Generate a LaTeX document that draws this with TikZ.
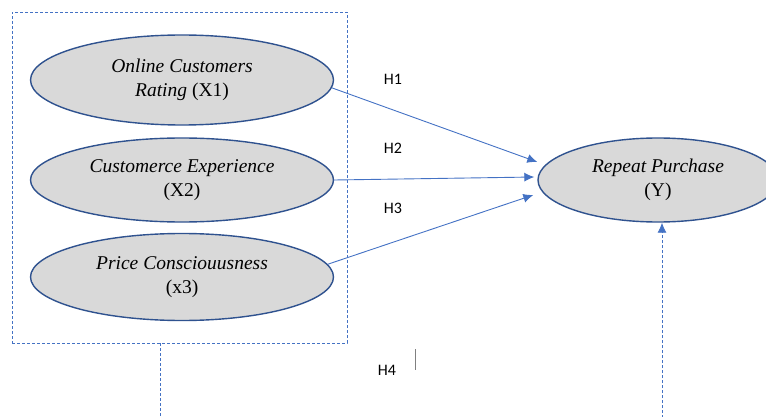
\documentclass[tikz,border=0pt]{standalone}
\usepackage{fontspec}
\setmainfont{Liberation Serif}
\newfontfamily\hypfont{Carlito}
\usetikzlibrary{positioning,calc,shapes.geometric,arrows.meta}
\definecolor{edgeblue}{HTML}{4472C4}
\definecolor{rimblue}{HTML}{2F528F}
\definecolor{varfill}{HTML}{D9D9D9}
\tikzstyle{var}= [ellipse, draw=rimblue, fill=varfill, line width=1.4pt, inner sep=0pt, align=center, font=\fontsize{19.5}{24}\selectfont]
\tikzstyle{hyp}= [inner sep=0pt, font=\hypfont\fontsize{16}{19}\selectfont]
\tikzstyle{link}= [draw=edgeblue, line width=0.9pt, -{Latex[length=10pt,width=9pt]}]
\tikzstyle{grouping}= [draw=edgeblue, line width=0.8pt, dash pattern=on 3pt off 2pt]

\begin{document}
\begin{tikzpicture}[x=1pt,y=-1pt]
\useasboundingbox (0,0) rectangle (766,417);
\node[grouping, minimum width=335pt, minimum height=331pt, inner sep=0pt] (grp) at (179.5,177.5) {};
\node[var, minimum width=303pt, minimum height=90pt] (x1) at (182,80) {\textit{Online Customers}\\\textit{Rating} (X1)};
\node[var, minimum width=303pt, minimum height=84pt] (x2) at (182,180) {\textit{Customerce Experience}\\(X2)};
\node[var, minimum width=303pt, minimum height=87pt] (x3) at (182,277) {\textit{Price Consciouusness}\\(x3)};
\node[var, minimum width=240pt, minimum height=84pt] (y) at (658,180) {\textit{Repeat Purchase}\\(Y)};
\node[hyp] (h1) at (393,79) {H1};
\node[hyp] (h2) at (393,148.5) {H2};
\node[hyp] (h3) at (393,208) {H3};
\node[hyp] (h4) at (387,370) {H4};
\draw[link] (x1.-3) -- ([shift={(0,-18)}]y.west);
\draw[link] (x2.east) -- ([shift={(-3,-3)}]y.west);
\draw[link] (x3.5) -- ([shift={(-4,15)}]y.west);
\draw[link, dash pattern=on 3pt off 2pt, line width=0.8pt] ($(grp.south west)!0.442!(grp.south east)$) -- ++(0,74) -| ([xshift=4pt]y.south);
\draw[gray, line width=0.8pt] (415,349) -- (415,370);
\end{tikzpicture}
\end{document}
